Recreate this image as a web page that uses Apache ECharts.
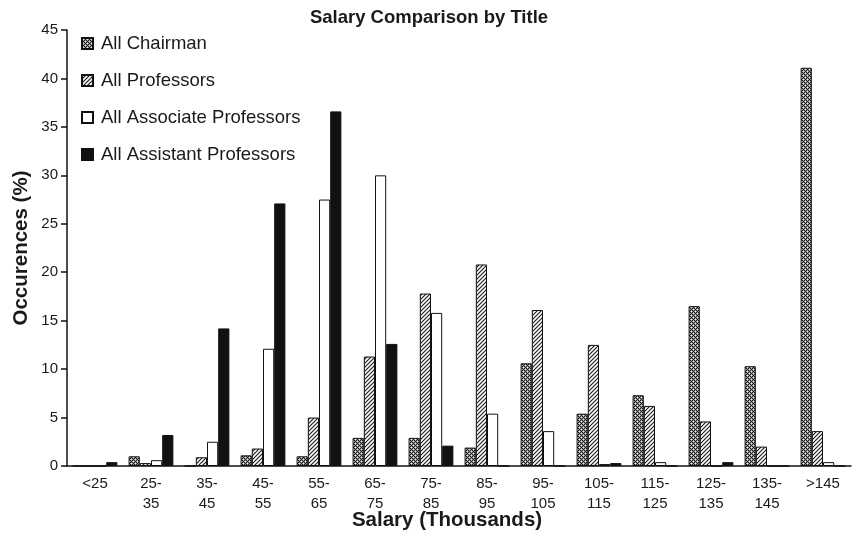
<!DOCTYPE html>
<html>
<head>
<meta charset="utf-8">
<script src="https://cdn.jsdelivr.net/npm/echarts@6/dist/echarts.min.js"></script>
<style>
  html, body { margin: 0; background: #fff; }
  #chart { width: 852px; height: 539px; }
</style>
</head>
<body>
<div id="chart"></div>
<script>
// salary bands (thousands)
const salaryBands = ['<25', '25-35', '35-45', '45-55', '55-65', '65-75', '75-85', '85-95',
  '95-105', '105-115', '115-125', '125-135', '135-145', '>145']

// occurrences (%) per title
const chairman = [0, 1.0, 0, 1.1, 1.0, 2.9, 2.9, 1.9, 10.6, 5.4, 7.3, 16.5, 10.3, 41.1]
const professors = [0, 0.3, 0.9, 1.8, 5.0, 11.3, 17.8, 20.8, 16.1, 12.5, 6.2, 4.6, 2.0, 3.6]
const associates = [0, 0.6, 2.5, 12.1, 27.5, 30.0, 15.8, 5.4, 3.6, 0.2, 0.4, 0, 0, 0.4]
const assistants = [0.4, 3.2, 14.2, 27.1, 36.6, 12.6, 2.1, 0, 0, 0.3, 0, 0.4, 0, 0]

const yTicks = { min: 0, max: 45, step: 5 }

function checkerPattern () {
  let c = document.createElement('canvas')
  c.width = 4
  c.height = 4
  let ctx = c.getContext('2d')
  ctx.fillStyle = '#999'
  ctx.fillRect(0, 0, 4, 4)
  ctx.fillStyle = '#1a1a1a'
  for (let y = 0; y < 4; y++) {
    for (let x = 0; x < 4; x++) {
      if ((x + y) % 2 === 0) ctx.fillRect(x, y, 1, 1)
    }
  }
  ctx.fillStyle = '#eee'
  ctx.fillRect(1, 1, 1, 1)
  ctx.fillRect(3, 3, 1, 1)
  return c
}

function hatchPattern () {
  let c = document.createElement('canvas')
  c.width = 4
  c.height = 4
  let ctx = c.getContext('2d')
  ctx.fillStyle = '#fff'
  ctx.fillRect(0, 0, 4, 4)
  ctx.strokeStyle = '#222'
  ctx.lineWidth = 1.2
  ctx.beginPath()
  ctx.moveTo(-1, 5)
  ctx.lineTo(5, -1)
  ctx.moveTo(-1, 1)
  ctx.lineTo(1, -1)
  ctx.moveTo(3, 5)
  ctx.lineTo(5, 3)
  ctx.stroke()
  return c
}

let chart = echarts.init(document.getElementById('chart'))

const txt = '#1a1a1a'
const font = 'Liberation Sans, Arial, sans-serif'

function bar (name, data, color) {
  return {
    name: name,
    type: 'bar',
    data: data,
    barGap: '0%',
    barCategoryGap: '20%',
    itemStyle: { color: color, borderColor: '#111', borderWidth: 1 },
    emphasis: { disabled: true }
  }
}

chart.setOption({
  animation: false,
  backgroundColor: '#fff',
  textStyle: { fontFamily: font, color: txt },
  title: {
    text: 'Salary Comparison by Title',
    left: 424,
    textAlign: 'center',
    top: 3,
    textStyle: { fontSize: 18.5, fontWeight: 'bold', color: txt, fontFamily: font }
  },
  legend: {
    orient: 'vertical',
    left: 81,
    top: 34,
    padding: 0,
    icon: 'rect',
    itemWidth: 11,
    itemHeight: 11,
    itemGap: 18,
    textStyle: { fontSize: 18.5, color: txt, fontFamily: font, padding: [0, 0, 0, 3] },
    data: ['All Chairman', 'All Professors', 'All Associate Professors', 'All Assistant Professors']
  },
  grid: { left: 67, right: 1, top: 30, bottom: 73, containLabel: false, outerBoundsMode: 'none' },
  xAxis: {
    type: 'category',
    data: salaryBands,
    name: 'Salary (Thousands)',
    nameLocation: 'middle',
    nameGap: 44,
    nameMoveOverlap: false,
    nameTextStyle: { fontSize: 20.5, fontWeight: 'bold', color: txt, padding: [0, 24, 0, 0] },
    axisLine: { lineStyle: { color: '#111', width: 1.5 } },
    axisTick: { length: 6, lineStyle: { color: '#111', width: 1.5 } },
    axisLabel: {
      fontSize: 15,
      color: txt,
      margin: 8,
      lineHeight: 20,
      interval: 0,
      formatter: v => v.replace('-', '-\n')
    }
  },
  yAxis: {
    type: 'value',
    min: yTicks.min,
    max: yTicks.max,
    interval: yTicks.step,
    name: 'Occurences (%)',
    nameLocation: 'middle',
    nameGap: 35,
    nameMoveOverlap: false,
    nameTextStyle: { fontSize: 20.5, fontWeight: 'bold', color: txt },
    splitLine: { show: false },
    axisLine: { show: true, lineStyle: { color: '#111', width: 1.5 } },
    axisTick: { show: true, length: 6, lineStyle: { color: '#111', width: 1.5 } },
    axisLabel: { fontSize: 15, color: txt, margin: 9 }
  },
  series: [
    bar('All Chairman', chairman, { image: checkerPattern(), repeat: 'repeat' }),
    bar('All Professors', professors, { image: hatchPattern(), repeat: 'repeat' }),
    bar('All Associate Professors', associates, '#fff'),
    bar('All Assistant Professors', assistants, '#111')
  ]
})
</script>
</body>
</html>
